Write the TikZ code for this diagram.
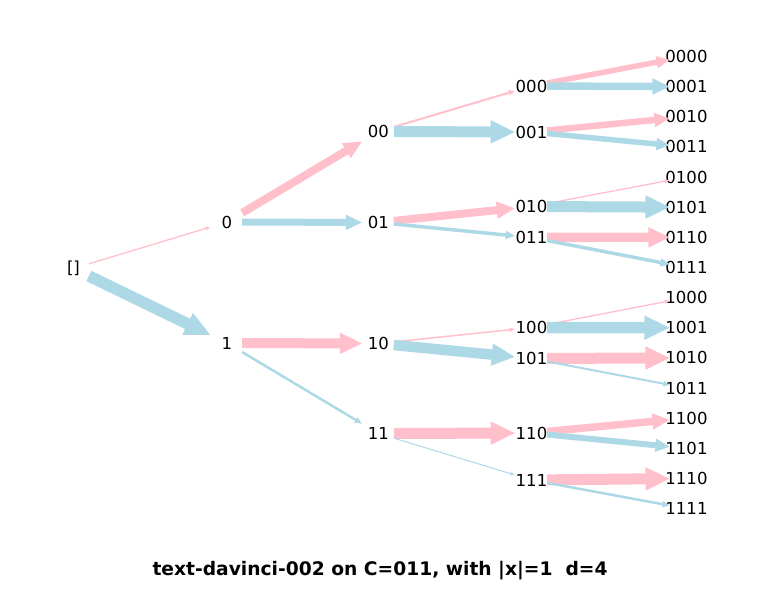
\documentclass[tikz,border=0pt]{standalone}
\usepackage{fontspec}
\setmainfont{DejaVu Sans}
\usetikzlibrary{calc}
\definecolor{zeropink}{RGB}{255,192,203}
\definecolor{oneblue}{RGB}{173,216,230}
\tikzset{
	tok/.style={font=\fontsize{12.4}{14}\selectfont,inner sep=1pt},
}
\begin{document}
\begin{tikzpicture}[x=0.75pt,y=-0.75pt]
	\useasboundingbox (0,0) rectangle (761,592);
	% tree of prefixes
	\node[tok] (root) at (73.5,268.5) {[]};
	\node[tok] (n0) at (227,222) {0};
	\node[tok] (n1) at (227,343) {1};
	\foreach \s/\y in {00/131.5,01/222.5,10/343.5,11/433.5}{
		\node[tok] (n\s) at (378.5,\y) {\s};
	}
	\foreach \s/\y in {000/86,001/132,010/206.5,011/237.5,100/327.5,101/358.5,110/433,111/480}{
		\node[tok] (n\s) at (531.5,\y) {\s};
	}
	\foreach \s [count=\i from 0] in {0000,0001,0010,0011,0100,0101,0110,0111,1000,1001,1010,1011,1100,1101,1110,1111}{
		\node[tok] (n\s) at (686.5,{56.5+30.14*\i}) {\s};
	}
	% arrows, width ~ probability
	\foreach \a/\b/\col/\w in {root/n0/zeropink/1.3,root/n1/oneblue/11.5,
		n0/n00/zeropink/8,n0/n01/oneblue/7,n1/n10/zeropink/10,n1/n11/oneblue/2.5,
		n00/n000/zeropink/2,n00/n001/oneblue/11,n01/n010/zeropink/8,n01/n011/oneblue/3.5,
		n10/n100/zeropink/1.5,n10/n101/oneblue/10.5,n11/n110/zeropink/11,n11/n111/oneblue/1,
		n000/n0000/zeropink/5.5,n000/n0001/oneblue/7.5,n001/n0010/zeropink/6.5,n001/n0011/oneblue/5.5,
		n010/n0100/zeropink/1.3,n010/n0101/oneblue/11,n011/n0110/zeropink/9.5,n011/n0111/oneblue/3.5,
		n100/n1000/zeropink/1.3,n100/n1001/oneblue/11.5,n101/n1010/zeropink/11,n101/n1011/oneblue/2,
		n110/n1100/zeropink/7.5,n110/n1101/oneblue/6,n111/n1110/zeropink/11,n111/n1111/oneblue/2.5}{
		\pgfmathsetmacro{\lw}{0.375*\w}
		\pgfmathsetmacro{\hw}{0.375*(2*\w+1.5)}
		\pgfmathsetmacro{\hl}{0.75*(2*\w+2)}
		\coordinate (s) at ($(\a)!0.1!(\b)$);
		\coordinate (t) at ($(\a)!0.89!(\b)$);
		\coordinate (h) at ($(t)!\hl pt!(s)$);
		\fill[\col] ($(s)!\lw pt!90:(t)$)--($(h)!\lw pt!-90:(s)$)--($(h)!\hw pt!-90:(s)$)--(t)
			--($(h)!\hw pt!90:(s)$)--($(h)!\lw pt!90:(s)$)--($(s)!\lw pt!-90:(t)$)--cycle;
	}
	\node[font=\bfseries\fontsize{14}{16}\selectfont] (title) at (380,571) {text-davinci-002 on C=011, with |x|=1\ \ d=4};
\end{tikzpicture}
\end{document}
